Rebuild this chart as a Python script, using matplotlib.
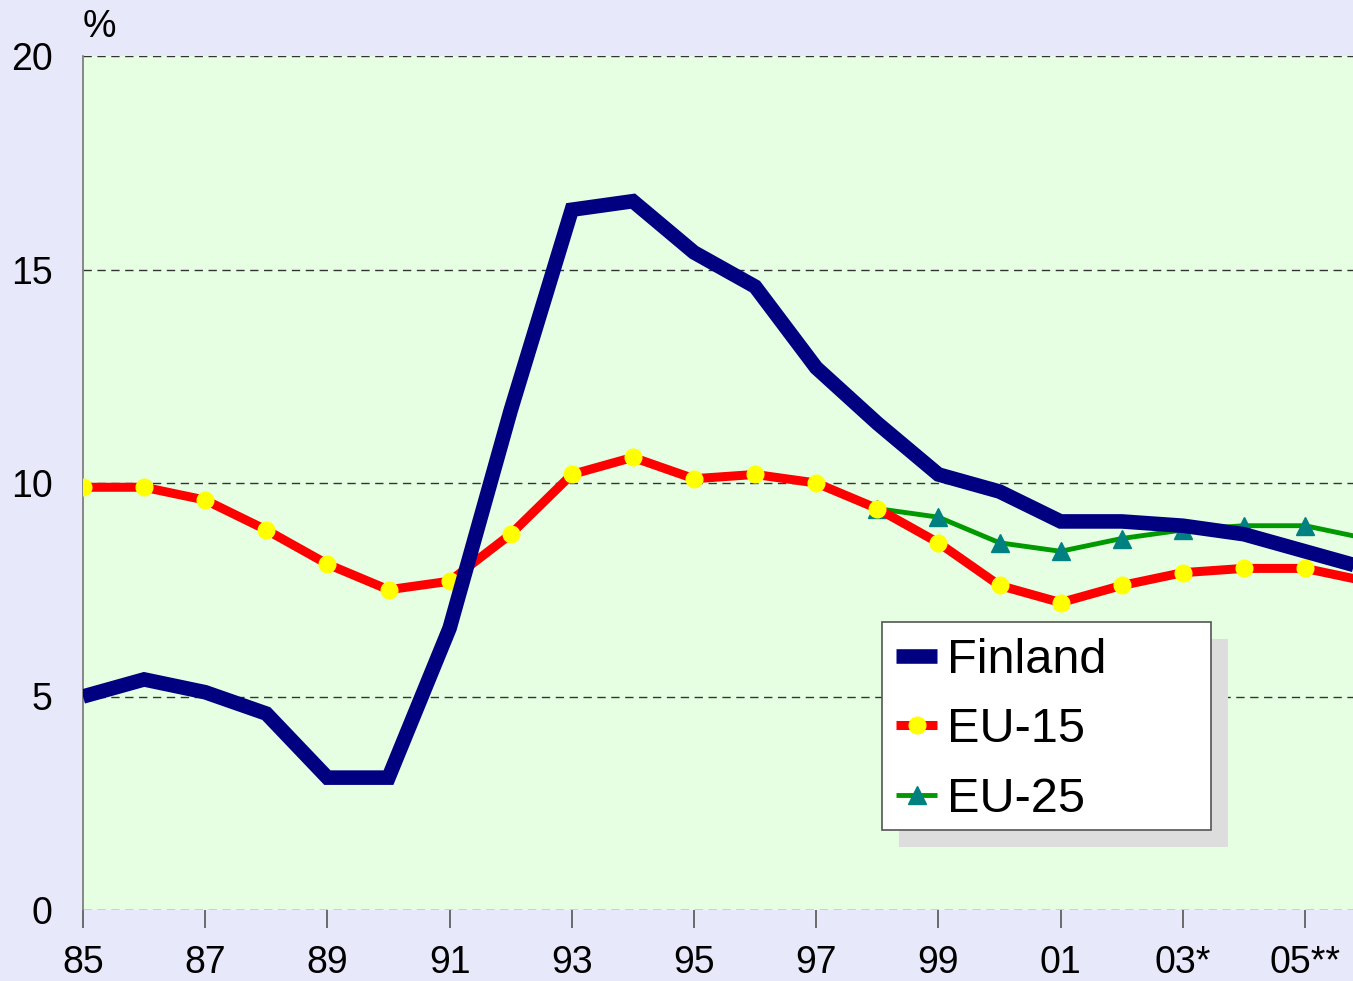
import numpy as np
import matplotlib
matplotlib.use("Agg")
import matplotlib.pyplot as plt
from matplotlib.patches import Rectangle

plt.rcParams["font.family"] = ["Liberation Sans", "DejaVu Sans"]

# données
years = list(range(1985, 2007))
finland = [5.0, 5.4, 5.1, 4.6, 3.1, 3.1, 6.6, 11.7, 16.4, 16.6, 15.4, 14.6,
           12.7, 11.4, 10.2, 9.8, 9.1, 9.1, 9.0, 8.8, 8.4, 8.0]
eu15 = [9.9, 9.9, 9.6, 8.9, 8.1, 7.5, 7.7, 8.8, 10.2, 10.6, 10.1, 10.2,
        10.0, 9.4, 8.6, 7.6, 7.2, 7.6, 7.9, 8.0, 8.0, 7.7]
eu25_years = list(range(1998, 2007))
eu25 = [9.4, 9.2, 8.6, 8.4, 8.7, 8.9, 9.0, 9.0, 8.7]

tick_years = [1985, 1987, 1989, 1991, 1993, 1995, 1997, 1999, 2001, 2003, 2005]
tick_labels = ["85", "87", "89", "91", "93", "95", "97", "99", "01", "03*", "05**"]

W, H = 1353, 981
fig = plt.figure(figsize=(W / 100, H / 100), dpi=100, facecolor="#E8E8FB")
ax = fig.add_axes([83 / W, 71 / H, 1270 / W, 854 / H])
ax.set_facecolor("#E6FFE3")

ax.plot(eu25_years, eu25, color="#009900", lw=3.5, marker="^", ms=13,
        mfc="#008080", mec="#008080", label="EU-25", zorder=3,
        solid_capstyle="butt")
ax.plot(years, eu15, color="#FF0000", lw=6.5, marker="o", ms=12,
        mfc="#FFFF00", mec="#FFFF00", label="EU-15", zorder=4,
        solid_capstyle="butt")
ax.plot(years, finland, color="#000080", lw=10.5, label="Finland", zorder=5,
        solid_joinstyle="miter", solid_capstyle="butt")

ax.set_xlim(1985, 1985 + 1270 / 61.1)
ax.set_ylim(0, 20)
ax.set_yticks([0, 5, 10, 15, 20])
ax.set_xticks(tick_years)
ax.set_xticklabels(tick_labels)
ax.tick_params(axis="x", length=13, width=1.2, color="#555555", pad=12, labelsize=27)
ax.tick_params(axis="y", length=0, pad=22, labelsize=27)
ax.grid(axis="y", color="#333333", linestyle=(0, (6, 4)), linewidth=1.0, zorder=1)
ax.set_axisbelow(True)
for s in ["top", "right", "bottom"]:
    ax.spines[s].set_visible(False)
ax.spines["left"].set_color("#777777")
ax.spines["left"].set_linewidth(1.2)

fig.text(99 / W, 1 - 27 / H, "%", fontsize=27, ha="center", va="center")

# cadre de la légende + ombre
bx0, by0, bx1, by1 = 882, 622, 1211, 830
def to_fig(x, y):
    return x / W, 1 - y / H
sx, sy = to_fig(bx0 + 17, by1 + 17)
fig.patches.append(Rectangle((sx, sy), (bx1 - bx0) / W, (by1 - by0) / H,
                             transform=fig.transFigure, facecolor="#DDDDDD",
                             edgecolor="none", zorder=8, figure=fig))
fx, fy = to_fig(bx0, by1)
fig.patches.append(Rectangle((fx, fy), (bx1 - bx0) / W, (by1 - by0) / H,
                             transform=fig.transFigure, facecolor="white",
                             edgecolor="#555555", linewidth=1.2, zorder=9,
                             figure=fig))

handles, labels = ax.get_legend_handles_labels()
order = [2, 1, 0]
leg = fig.legend([handles[i] for i in order], [labels[i] for i in order],
                 loc="upper left", bbox_to_anchor=to_fig(896, 638),
                 borderaxespad=0, fontsize=35, frameon=False,
                 handlelength=0.85, handletextpad=0.2,
                 labelspacing=0.5, borderpad=0)
leg.set_zorder(10)

plt.savefig("out.png", dpi=100, facecolor=fig.get_facecolor())
